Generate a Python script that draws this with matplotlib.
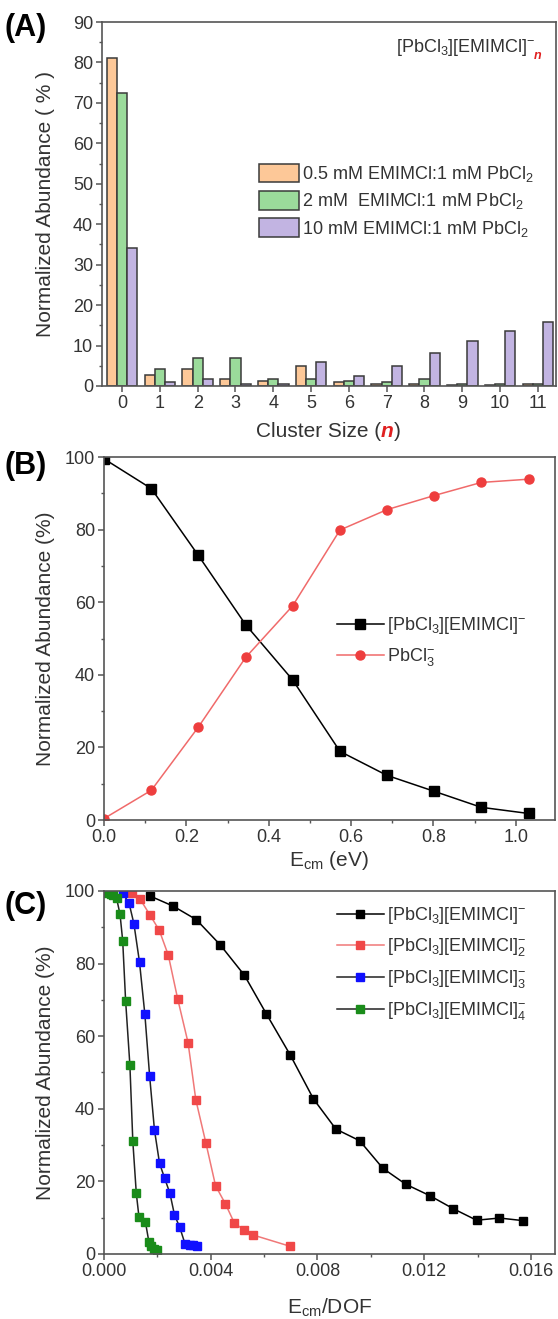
import numpy as np
import matplotlib.pyplot as plt
from matplotlib.ticker import MultipleLocator

plt.rcParams['font.family'] = ['Liberation Sans', 'DejaVu Sans']
plt.rcParams['mathtext.fontset'] = 'custom'
plt.rcParams['mathtext.rm'] = 'Liberation Sans'
plt.rcParams['mathtext.it'] = 'Liberation Sans:italic'
plt.rcParams['mathtext.bf'] = 'Liberation Sans:bold'

# (A) cluster size distribution
cluster_n = np.arange(12)
ab_05mM = [81.0, 2.8, 4.3, 1.7, 1.3, 5.0, 1.0, 0.6, 0.6, 0.3, 0.3, 0.6]
ab_2mM = [72.5, 4.3, 7.0, 6.8, 1.7, 1.6, 1.3, 0.9, 1.8, 0.6, 0.5, 0.6]
ab_10mM = [34.0, 1.0, 1.6, 0.6, 0.6, 6.0, 2.5, 5.0, 8.2, 11.1, 13.5, 15.8]
labels_A = ['0.5 mM EMIMCl:1 mM PbCl$_2$',
            '2 mM  EMIMCl:1 mM PbCl$_2$',
            '10 mM EMIMCl:1 mM PbCl$_2$']

# (B) CID breakdown vs Ecm
ecm = [0.0, 0.115, 0.229, 0.344, 0.458, 0.573, 0.687, 0.802, 0.916, 1.031]
parent = [99.5, 91.3, 72.9, 53.8, 38.6, 18.9, 12.3, 7.9, 3.5, 1.8]
pbcl3 = [0.4, 8.2, 25.6, 44.8, 59.0, 79.9, 85.5, 89.4, 93.0, 93.9]

# (C) breakdown vs Ecm/DOF
x_n1 = [0.00173, 0.0026, 0.00346, 0.00435, 0.00526, 0.00608, 0.00698, 0.00785,
        0.00869, 0.00958, 0.01045, 0.01131, 0.0122, 0.01308, 0.01396, 0.01482, 0.01569]
y_n1 = [98.6, 95.8, 92.1, 85.2, 76.8, 66.2, 54.8, 42.7, 34.4, 31.2, 23.6, 19.2,
        16.1, 12.5, 9.3, 9.9, 9.2]
x_n2 = [0.00104, 0.00135, 0.00172, 0.00207, 0.00241, 0.00276, 0.00315, 0.00344,
        0.00382, 0.00418, 0.00455, 0.00488, 0.00524, 0.0056, 0.00698]
y_n2 = [99.4, 97.8, 93.4, 89.2, 82.3, 70.3, 58.2, 42.5, 30.5, 18.8, 13.8, 8.6,
        6.6, 5.2, 2.1]
x_n3 = [0.0007, 0.00094, 0.00112, 0.00133, 0.00153, 0.00171, 0.00189, 0.00208,
        0.00227, 0.00247, 0.00264, 0.00284, 0.00304, 0.00322, 0.00335, 0.00347]
y_n3 = [99.4, 96.6, 91.0, 80.4, 66.1, 49.0, 34.2, 25.0, 20.9, 16.7, 10.8, 7.3,
        2.7, 2.6, 2.4, 2.3]
x_n4 = [0.00005, 0.00015, 0.00025, 0.00035, 0.00047, 0.0006, 0.00070, 0.00081,
        0.00097, 0.00108, 0.00121, 0.00131, 0.00155, 0.00168, 0.00177, 0.00188, 0.00197]
y_n4 = [99.8, 99.5, 99.2, 98.8, 98.0, 93.6, 86.3, 69.7, 52.0, 31.0, 16.7, 10.2,
        8.9, 3.4, 2.3, 1.4, 1.0]
labels_C = ['[PbCl$_3$][EMIMCl]$^{-}$', '[PbCl$_3$][EMIMCl]$^{-}_{2}$',
            '[PbCl$_3$][EMIMCl]$^{-}_{3}$', '[PbCl$_3$][EMIMCl]$^{-}_{4}$']

spine_c = '#555555'
txt_c = '#333333'
fs = 13      # tick / legend text
fl = 15      # axis labels


def style(ax):
    for s in ax.spines.values():
        s.set_color(spine_c)
        s.set_linewidth(1.2)
    ax.tick_params(which='both', direction='out', colors=spine_c, labelcolor=txt_c,
                   labelsize=fs, top=False, right=False)
    ax.tick_params(which='major', length=4, width=1.1, pad=2.5)
    ax.tick_params(which='minor', length=2.5, width=1.0)


fig = plt.figure(figsize=(5.58, 13.19), dpi=100)
axA = fig.add_axes([0.1828, 0.7074, 0.8136, 0.2759])
axB = fig.add_axes([0.1864, 0.3783, 0.8082, 0.2752])
axC = fig.add_axes([0.1864, 0.0493, 0.8082, 0.2752])

# ---- panel A
w = 0.27
axA.bar(cluster_n - w, ab_05mM, w, color='#FDC898', edgecolor='#3a3a3a', linewidth=1.1, label=labels_A[0])
axA.bar(cluster_n, ab_2mM, w, color='#9BDB9B', edgecolor='#3a3a3a', linewidth=1.1, label=labels_A[1])
axA.bar(cluster_n + w, ab_10mM, w, color='#C2B4E2', edgecolor='#3a3a3a', linewidth=1.1, label=labels_A[2])
axA.set_xlim(-0.53, 11.48)
axA.set_ylim(0, 90)
axA.set_xticks(cluster_n)
axA.yaxis.set_major_locator(MultipleLocator(10))
axA.yaxis.set_minor_locator(MultipleLocator(5))
style(axA)
axA.legend(loc='upper left', bbox_to_anchor=(0.33, 0.63), frameon=False, fontsize=fs,
           handlelength=2.2, handleheight=1.2, handletextpad=0.2, labelspacing=0.38,
           borderaxespad=0, labelcolor=txt_c)
t = axA.text(0.955, 0.96, '[PbCl$_3$][EMIMCl]$^{-}$', transform=axA.transAxes, ha='right',
             va='top', fontsize=fs, color=txt_c)
axA.annotate('n', xy=(1, 0), xycoords=t, xytext=(-1, -3), textcoords='offset points',
             ha='left', va='bottom', fontsize=9, color='#e02020', fontweight='bold', style='italic')
axA.set_ylabel('Normalized Abundance ( % )', fontsize=fl, color=txt_c)
axA.yaxis.set_label_coords(-0.103, 0.5)
# x label with red n
t1 = fig.text(0.458, 0.6725, 'Cluster Size (', fontsize=fl, color=txt_c, ha='left', va='center')
t2 = axA.annotate('n', xy=(1, 0), xycoords=t1, ha='left', va='bottom', fontsize=fl,
                  color='#e02020', fontweight='bold', style='italic')
axA.annotate(')', xy=(1, 0), xycoords=t2, ha='left', va='bottom', fontsize=fl, color=txt_c)

# ---- panel B
axB.plot(ecm, parent, '-s', color='black', lw=1.1, ms=6.5, label='[PbCl$_3$][EMIMCl]$^{-}$')
axB.plot(ecm, pbcl3, '-o', color='#f06a6a', mfc='#ee3e3e', mec='#ee3e3e', lw=1.1, ms=6.5,
         label='PbCl$^{-}_{3}$')
axB.set_xlim(0, 1.095)
axB.set_ylim(0, 100)
axB.xaxis.set_major_locator(MultipleLocator(0.2))
axB.xaxis.set_minor_locator(MultipleLocator(0.1))
axB.yaxis.set_major_locator(MultipleLocator(20))
axB.yaxis.set_minor_locator(MultipleLocator(10))
axB.xaxis.set_major_formatter(plt.FormatStrFormatter('%.1f'))
style(axB)
axB.legend(loc='upper left', bbox_to_anchor=(0.5, 0.585), frameon=False, fontsize=fs,
           handlelength=2.6, handletextpad=0.2, labelspacing=0.55, borderaxespad=0,
           labelcolor=txt_c)
axB.set_ylabel('Normalized Abundance (%)', fontsize=fl, color=txt_c)
axB.yaxis.set_label_coords(-0.109, 0.5)
axB.set_xlabel(r'E$_{\mathrm{cm}}$ (eV)', fontsize=fl, color=txt_c, labelpad=2)

# ---- panel C
axC.plot(x_n1, y_n1, '-s', color='black', lw=1.1, ms=6, label=labels_C[0])
axC.plot(x_n2, y_n2, '-s', color='#f07878', mfc='#f04848', mec='#f04848', lw=1.1, ms=6,
         label=labels_C[1])
axC.plot(x_n3, y_n3, '-s', color='#222222', mfc='#1010ff', mec='#1010ff', lw=1.1, ms=6,
         label=labels_C[2])
axC.plot(x_n4, y_n4, '-s', color='#222222', mfc='#1a8c1a', mec='#1a8c1a', lw=1.1, ms=6,
         label=labels_C[3])
axC.set_xlim(0, 0.0169)
axC.set_ylim(0, 100)
axC.xaxis.set_major_locator(MultipleLocator(0.004))
axC.xaxis.set_minor_locator(MultipleLocator(0.002))
axC.yaxis.set_major_locator(MultipleLocator(20))
axC.yaxis.set_minor_locator(MultipleLocator(10))
axC.xaxis.set_major_formatter(plt.FormatStrFormatter('%.3f'))
style(axC)
axC.legend(loc='upper left', bbox_to_anchor=(0.5, 0.98), frameon=False, fontsize=fs,
           handlelength=2.6, handletextpad=0.2, labelspacing=0.55, borderaxespad=0,
           labelcolor=txt_c)
axC.set_ylabel('Normalized Abundance (%)', fontsize=fl, color=txt_c)
axC.yaxis.set_label_coords(-0.109, 0.5)
axC.set_xlabel(r'E$_{\mathrm{cm}}$/DOF', fontsize=fl, color=txt_c, labelpad=12)

# panel letters
fig.text(0.008, 0.979, '(A)', fontsize=22, fontweight='bold', va='center', ha='left')
fig.text(0.008, 0.647, '(B)', fontsize=22, fontweight='bold', va='center', ha='left')
fig.text(0.008, 0.313, '(C)', fontsize=22, fontweight='bold', va='center', ha='left')

fig.savefig('out.png', dpi=100)
